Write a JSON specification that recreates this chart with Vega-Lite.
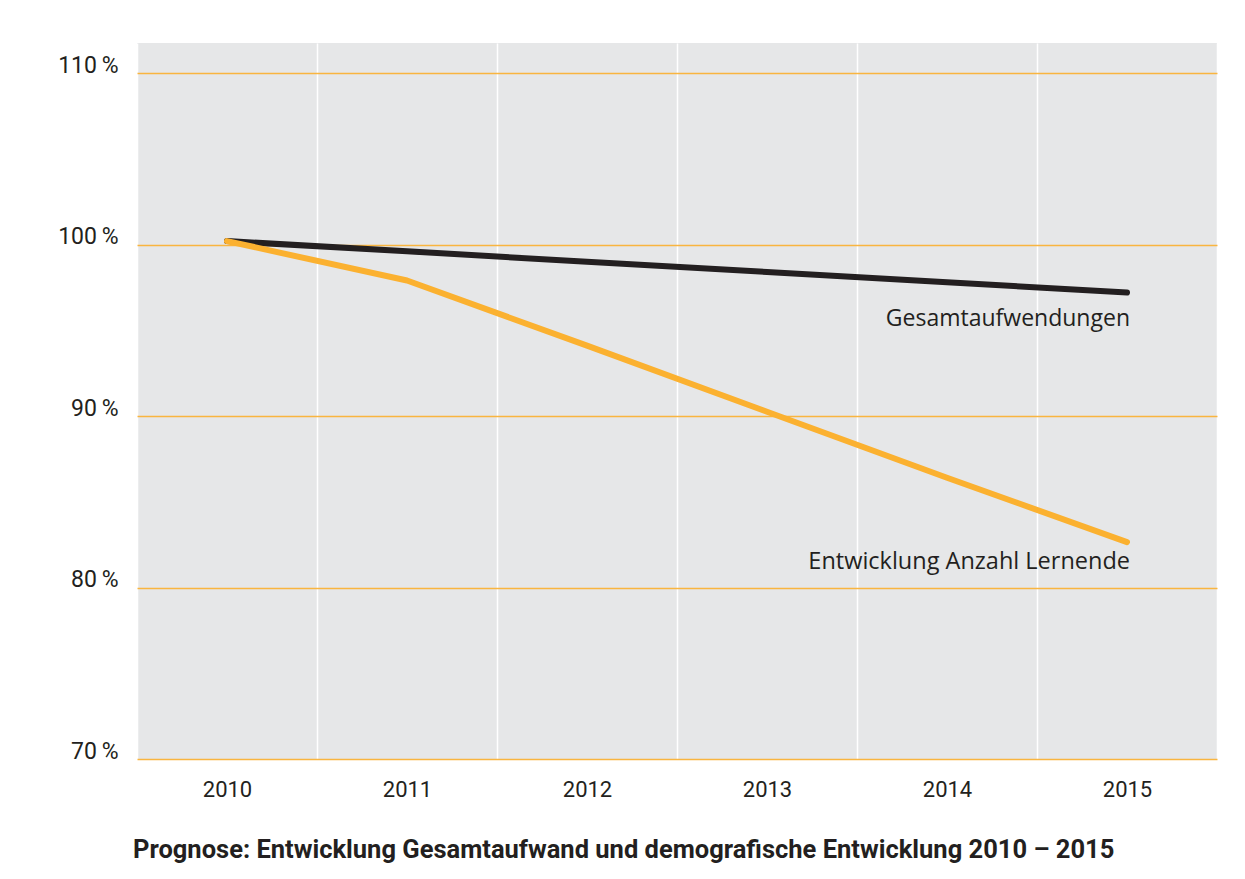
{
  "$schema": "https://vega.github.io/schema/vega-lite/v6.json",
  "width": 1080,
  "height": 716,
  "autosize": "none",
  "padding": {"left": 137, "top": 43, "right": 28, "bottom": 120},
  "background": "white",
  "config": {
    "view": {"fill": "#e6e7e8", "stroke": null},
    "font": "Roboto"
  },
  "title": {
    "text": "Prognose: Entwicklung Gesamtaufwand und demografische Entwicklung 2010 – 2015",
    "orient": "bottom",
    "anchor": "start",
    "frame": "group",
    "font": "Roboto",
    "fontSize": 25.5,
    "fontWeight": "bold",
    "color": "#231f20",
    "offset": 38,
    "dx": -4,
    "baseline": "top"
  },
  "data": {
    "values": [
      {"year": "2010", "series": "Gesamtaufwendungen", "value": 100.2},
      {"year": "2011", "series": "Gesamtaufwendungen", "value": 99.6},
      {"year": "2012", "series": "Gesamtaufwendungen", "value": 99.0},
      {"year": "2013", "series": "Gesamtaufwendungen", "value": 98.4},
      {"year": "2014", "series": "Gesamtaufwendungen", "value": 97.8},
      {"year": "2015", "series": "Gesamtaufwendungen", "value": 97.2, "label": "Gesamtaufwendungen"},
      {"year": "2010", "series": "Entwicklung Anzahl Lernende", "value": 100.2},
      {"year": "2011", "series": "Entwicklung Anzahl Lernende", "value": 97.9},
      {"year": "2012", "series": "Entwicklung Anzahl Lernende", "value": 94.1},
      {"year": "2013", "series": "Entwicklung Anzahl Lernende", "value": 90.25},
      {"year": "2014", "series": "Entwicklung Anzahl Lernende", "value": 86.4},
      {"year": "2015", "series": "Entwicklung Anzahl Lernende", "value": 82.65, "label": "Entwicklung Anzahl Lernende"}
    ]
  },
  "encoding": {
    "x": {
      "field": "year",
      "type": "ordinal",
      "scale": {"type": "band", "paddingInner": 0, "paddingOuter": 0},
      "axis": {
        "title": null,
        "tickBand": "extent",
        "grid": true,
        "gridColor": "#ffffff",
        "gridWidth": 1.5,
        "domain": false,
        "ticks": false,
        "labelAngle": 0,
        "labelFont": "Roboto",
        "labelFontWeight": 400,
        "labelFontSize": 22,
        "labelColor": "#231f20",
        "labelPadding": 20,
        "labelBaseline": "top"
      }
    },
    "y": {
      "field": "value",
      "type": "quantitative",
      "scale": {"domain": [70, 111.75], "nice": false, "zero": false},
      "axis": {
        "title": null,
        "values": [70, 80, 90, 100, 110],
        "grid": true,
        "gridColor": "#f9b53f",
        "gridWidth": 1.5,
        "gridOpacity": 1,
        "domain": false,
        "ticks": false,
        "labelExpr": "datum.value + '\u2009%'",
        "labelFont": "Roboto",
        "labelFontWeight": 400,
        "labelFontSize": 23,
        "labelColor": "#231f20",
        "labelPadding": 19,
        "labelBaseline": "alphabetic",
        "labelOffset": -1
      }
    }
  },
  "layer": [
    {
      "mark": {"type": "line", "strokeWidth": 6, "strokeCap": "round", "strokeJoin": "round"},
      "encoding": {
        "color": {
          "field": "series",
          "type": "nominal",
          "scale": {"domain": ["Gesamtaufwendungen", "Entwicklung Anzahl Lernende"], "range": ["#231f20", "#fbb130"]},
          "legend": null
        }
      }
    },
    {
      "transform": [{"filter": "datum.label == 'Gesamtaufwendungen'"}],
      "mark": {"type": "text", "align": "right", "baseline": "middle", "dx": 3, "dy": 26, "font": "Open Sans", "fontSize": 23, "color": "#231f20"},
      "encoding": {
        "text": {"field": "label"}
      }
    },
    {
      "transform": [{"filter": "datum.label == 'Entwicklung Anzahl Lernende'"}],
      "mark": {"type": "text", "align": "right", "baseline": "middle", "dx": 3, "dy": 20, "font": "Open Sans", "fontSize": 23.5, "color": "#231f20"},
      "encoding": {
        "text": {"field": "label"}
      }
    }
  ]
}
